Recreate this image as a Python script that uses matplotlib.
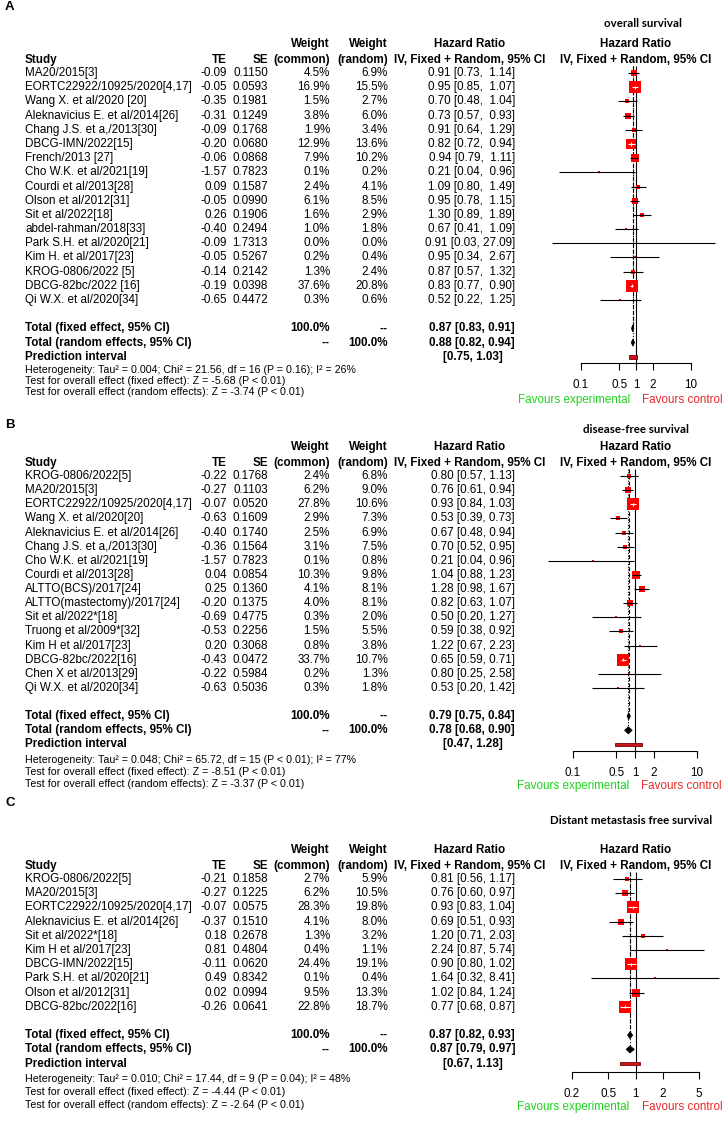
import numpy as np
import matplotlib
matplotlib.use("Agg")
import matplotlib.pyplot as plt
from matplotlib.ticker import NullLocator

# ---------------- data: panel A (overall survival) ----------------
studies_A = ["MA20/2015[3]", "EORTC22922/10925/2020[4,17]", "Wang X. et al/2020 [20]",
             "Aleknavicius E. et al/2014[26]", "Chang J.S. et a,/2013[30]", "DBCG-IMN/2022[15]",
             "French/2013 [27]", "Cho W.K. et al/2021[19]", "Courdi et al/2013[28]",
             "Olson et al/2012[31]", "Sit et al/2022[18]", "abdel-rahman/2018[33]",
             "Park S.H. et al/2020[21]", "Kim H. et al/2017[23]", "KROG-0806/2022 [5]",
             "DBCG-82bc/2022 [16]", "Qi W.X. et al/2020[34]"]
te_A = [-0.09, -0.05, -0.35, -0.31, -0.09, -0.20, -0.06, -1.57, 0.09, -0.05, 0.26, -0.40, -0.09, -0.05, -0.14, -0.19, -0.65]
se_A = [0.1150, 0.0593, 0.1981, 0.1249, 0.1768, 0.0680, 0.0868, 0.7823, 0.1587, 0.0990, 0.1906, 0.2494, 1.7313, 0.5267, 0.2142, 0.0398, 0.4472]
wc_A = [4.5, 16.9, 1.5, 3.8, 1.9, 12.9, 7.9, 0.1, 2.4, 6.1, 1.6, 1.0, 0.0, 0.2, 1.3, 37.6, 0.3]
wr_A = [6.9, 15.5, 2.7, 6.0, 3.4, 13.6, 10.2, 0.2, 4.1, 8.5, 2.9, 1.8, 0.0, 0.4, 2.4, 20.8, 0.6]
hr_A = [0.91, 0.95, 0.70, 0.73, 0.91, 0.82, 0.94, 0.21, 1.09, 0.95, 1.30, 0.67, 0.91, 0.95, 0.87, 0.83, 0.52]
lo_A = [0.73, 0.85, 0.48, 0.57, 0.64, 0.72, 0.79, 0.04, 0.80, 0.78, 0.89, 0.41, 0.03, 0.34, 0.57, 0.77, 0.22]
hi_A = [1.14, 1.07, 1.04, 0.93, 1.29, 0.94, 1.11, 0.96, 1.49, 1.15, 1.89, 1.09, 27.09, 2.67, 1.32, 0.90, 1.25]
fixed_A = [0.87, 0.83, 0.91]
random_A = [0.88, 0.82, 0.94]
pred_A = [0.75, 1.03]
het_A = ["Heterogeneity: Tau\u00b2 = 0.004; Chi\u00b2 = 21.56, df = 16 (P = 0.16); I\u00b2 = 26%",
         "Test for overall effect (fixed effect): Z = -5.68 (P < 0.01)",
         "Test for overall effect (random effects): Z = -3.74 (P < 0.01)"]
ticks_A = [0.1, 0.5, 1, 2, 10]
ticklabels_A = ["0.1", "0.5", "1", "2", "10"]

# ---------------- data: panel B (disease-free survival) ----------------
studies_B = ["KROG-0806/2022[5]", "MA20/2015[3]", "EORTC22922/10925/2020[4,17]", "Wang X. et al/2020[20]",
             "Aleknavicius E. et al/2014[26]", "Chang J.S. et a,/2013[30]", "Cho W.K. et al/2021[19]",
             "Courdi et al/2013[28]", "ALTTO(BCS)/2017[24]", "ALTTO(mastectomy)/2017[24]",
             "Sit et al/2022*[18]", "Truong et al/2009*[32]", "Kim H et al/2017[23]",
             "DBCG-82bc/2022[16]", "Chen X et al/2013[29]", "Qi W.X. et al/2020[34]"]
te_B = [-0.22, -0.27, -0.07, -0.63, -0.40, -0.36, -1.57, 0.04, 0.25, -0.20, -0.69, -0.53, 0.20, -0.43, -0.22, -0.63]
se_B = [0.1768, 0.1103, 0.0520, 0.1609, 0.1740, 0.1564, 0.7823, 0.0854, 0.1360, 0.1375, 0.4775, 0.2256, 0.3068, 0.0472, 0.5984, 0.5036]
wc_B = [2.4, 6.2, 27.8, 2.9, 2.5, 3.1, 0.1, 10.3, 4.1, 4.0, 0.3, 1.5, 0.8, 33.7, 0.2, 0.3]
wr_B = [6.8, 9.0, 10.6, 7.3, 6.9, 7.5, 0.8, 9.8, 8.1, 8.1, 2.0, 5.5, 3.8, 10.7, 1.3, 1.8]
hr_B = [0.80, 0.76, 0.93, 0.53, 0.67, 0.70, 0.21, 1.04, 1.28, 0.82, 0.50, 0.59, 1.22, 0.65, 0.80, 0.53]
lo_B = [0.57, 0.61, 0.84, 0.39, 0.48, 0.52, 0.04, 0.88, 0.98, 0.63, 0.20, 0.38, 0.67, 0.59, 0.25, 0.20]
hi_B = [1.13, 0.94, 1.03, 0.73, 0.94, 0.95, 0.96, 1.23, 1.67, 1.07, 1.27, 0.92, 2.23, 0.71, 2.58, 1.42]
fixed_B = [0.79, 0.75, 0.84]
random_B = [0.78, 0.68, 0.90]
pred_B = [0.47, 1.28]
het_B = ["Heterogeneity: Tau\u00b2 = 0.048; Chi\u00b2 = 65.72, df = 15 (P < 0.01); I\u00b2 = 77%",
         "Test for overall effect (fixed effect): Z = -8.51 (P < 0.01)",
         "Test for overall effect (random effects): Z = -3.37 (P < 0.01)"]
ticks_B = [0.1, 0.5, 1, 2, 10]
ticklabels_B = ["0.1", "0.5", "1", "2", "10"]

# ---------------- data: panel C (distant metastasis free survival) ----------------
studies_C = ["KROG-0806/2022[5]", "MA20/2015[3]", "EORTC22922/10925/2020[4,17]",
             "Aleknavicius E. et al/2014[26]", "Sit et al/2022*[18]", "Kim H et al/2017[23]",
             "DBCG-IMN/2022[15]", "Park S.H. et al/2020[21]", "Olson et al/2012[31]", "DBCG-82bc/2022[16]"]
te_C = [-0.21, -0.27, -0.07, -0.37, 0.18, 0.81, -0.11, 0.49, 0.02, -0.26]
se_C = [0.1858, 0.1225, 0.0575, 0.1510, 0.2678, 0.4804, 0.0620, 0.8342, 0.0994, 0.0641]
wc_C = [2.7, 6.2, 28.3, 4.1, 1.3, 0.4, 24.4, 0.1, 9.5, 22.8]
wr_C = [5.9, 10.5, 19.8, 8.0, 3.2, 1.1, 19.1, 0.4, 13.3, 18.7]
hr_C = [0.81, 0.76, 0.93, 0.69, 1.20, 2.24, 0.90, 1.64, 1.02, 0.77]
lo_C = [0.56, 0.60, 0.83, 0.51, 0.71, 0.87, 0.80, 0.32, 0.84, 0.68]
hi_C = [1.17, 0.97, 1.04, 0.93, 2.03, 5.74, 1.02, 8.41, 1.24, 0.87]
fixed_C = [0.87, 0.82, 0.93]
random_C = [0.87, 0.79, 0.97]
pred_C = [0.67, 1.13]
het_C = ["Heterogeneity: Tau\u00b2 = 0.010; Chi\u00b2 = 17.44, df = 9 (P = 0.04); I\u00b2 = 48%",
         "Test for overall effect (fixed effect): Z = -4.44 (P < 0.01)",
         "Test for overall effect (random effects): Z = -2.64 (P < 0.01)"]
ticks_C = [0.2, 0.5, 1, 2, 5]
ticklabels_C = ["0.2", "0.5", "1", "2", "5"]

# ---------------- layout ----------------
plt.rcParams['font.family'] = ['Liberation Sans', 'DejaVu Sans']
W, H = 724, 1122
FS = 8.4
FS_HET = 7.7
COL = dict(study=25, te=227, se=268, wc=330, wr=388, hr=515, hrc=470, fpc=636)
GREEN = '#1fd11f'
RED = '#e8292b'

fig = plt.figure(figsize=(W / 100, H / 100), dpi=100)
ax0 = fig.add_axes([0, 0, 1, 1])
ax0.set_xlim(0, W)
ax0.set_ylim(H, 0)
ax0.axis('off')


def draw_panel(L, studies, te, se, wc, wr, hr, lo, hi, fixed, random, pred, het, ticks, ticklabels):
    y0, dy = L['y0'], L['dy']
    n = len(studies)
    ys = [y0 + i * dy for i in range(n)]
    yF, yR, yP = y0 + (n + 1) * dy, y0 + (n + 2) * dy, y0 + (n + 3) * dy

    ax0.text(5, L['label_y'], L['label'], fontsize=9.5, fontweight='bold', ha='left', va='center')
    ax0.text(L['title_x'], L['title_y'], L['title'], fontsize=8.3, fontweight='bold',
             family=['Lato', 'DejaVu Sans'], ha='center', va='center')

    h1, h2 = y0 - 29, y0 - 13
    kb = dict(fontsize=FS, fontweight='bold', va='center')
    ax0.text(COL['wc'], h1, 'Weight', ha='right', **kb)
    ax0.text(COL['wr'], h1, 'Weight', ha='right', **kb)
    ax0.text(COL['hrc'], h1, 'Hazard Ratio', ha='center', **kb)
    ax0.text(COL['fpc'], h1, 'Hazard Ratio', ha='center', **kb)
    ax0.text(COL['study'], h2, 'Study', ha='left', **kb)
    ax0.text(COL['te'], h2, 'TE', ha='right', **kb)
    ax0.text(COL['se'], h2, 'SE', ha='right', **kb)
    ax0.text(COL['wc'], h2, '(common)', ha='right', **kb)
    ax0.text(COL['wr'], h2, '(random)', ha='right', **kb)
    ax0.text(COL['hrc'], h2, 'IV, Fixed + Random, 95% CI', ha='center', **kb)
    ax0.text(COL['fpc'], h2, 'IV, Fixed + Random, 95% CI', ha='center', **kb)

    kn = dict(fontsize=FS, va='center')
    cw = L['ci_w']
    for i in range(n):
        y = ys[i]
        ax0.text(COL['study'], y, studies[i], ha='left', **kn)
        ax0.text(COL['te'], y, f"{te[i]:.2f}", ha='right', **kn)
        ax0.text(COL['se'], y, f"{se[i]:.4f}", ha='right', **kn)
        ax0.text(COL['wc'], y, f"{wc[i]:.1f}%", ha='right', **kn)
        ax0.text(COL['wr'], y, f"{wr[i]:.1f}%", ha='right', **kn)
        ax0.text(COL['hr'], y, f"{hr[i]:.2f} [{lo[i]:.2f}, {hi[i]:>{cw}.2f}]", ha='right', **kn)

    ax0.text(COL['study'], yF, 'Total (fixed effect, 95% CI)', ha='left', **kb)
    ax0.text(COL['wc'], yF, '100.0%', ha='right', **kb)
    ax0.text(COL['wr'], yF, '--', ha='right', **kb)
    ax0.text(COL['hr'], yF, f"{fixed[0]:.2f} [{fixed[1]:.2f}, {fixed[2]:.2f}]", ha='right', **kb)
    ax0.text(COL['study'], yR, 'Total (random effects, 95% CI)', ha='left', **kb)
    ax0.text(COL['wc'], yR, '--', ha='right', **kb)
    ax0.text(COL['wr'], yR, '100.0%', ha='right', **kb)
    ax0.text(COL['hr'], yR, f"{random[0]:.2f} [{random[1]:.2f}, {random[2]:.2f}]", ha='right', **kb)
    ax0.text(COL['study'], yP, 'Prediction interval', ha='left', **kb)
    ax0.text(COL['hr'] - 12, yP, f"[{pred[0]:.2f}, {pred[1]:.2f}]", ha='right', **kb)

    for s, yy in zip(het, L['het_y']):
        ax0.text(COL['study'], yy, s, ha='left', va='center', fontsize=FS_HET)

    # forest plot axes (log scale), y in pixel rows
    xl, xr = 525, 724
    top, bot = y0 - 14, L['axis_y']
    d, xref = L['decade'], L['xref']
    axf = fig.add_axes([xl / W, 1 - bot / H, (xr - xl) / W, (bot - top) / H])
    axf.set_xscale('log')
    axf.set_xlim(10 ** ((xl - xref) / d), 10 ** ((xr - xref) / d))
    axf.set_ylim(bot, top)
    axf.patch.set_visible(False)
    for s in ['top', 'right', 'left']:
        axf.spines[s].set_visible(False)
    axf.spines['bottom'].set_bounds(ticks[0], ticks[-1])
    axf.spines['bottom'].set_linewidth(0.8)
    axf.set_xticks(ticks)
    axf.set_xticklabels(ticklabels, fontsize=FS)
    axf.xaxis.set_minor_locator(NullLocator())
    axf.tick_params(axis='x', direction='out', length=5, width=0.8, pad=6.3)
    axf.set_yticks([])

    ytop = y0 - 7
    axf.vlines(1, ytop, bot, color='black', lw=0.8, zorder=1)
    axf.vlines(fixed[0], ytop, yF, color='black', lw=0.8, linestyles=(0, (3.5, 2)), zorder=1)
    axf.vlines(random[0], ytop, yR, color='black', lw=0.8, linestyles=(0, (1, 1.5)), zorder=1)

    for i in range(n):
        y = ys[i]
        side = 0 if wc[i] <= 0 else max(2.0, min(12.5, 2.7 * np.sqrt(wc[i])))
        left_px = d * np.log10(hr[i] / lo[i])
        right_px = d * np.log10(hi[i] / hr[i])
        inside = side / 2 > left_px and side / 2 > right_px
        if side > 0:
            axf.scatter([hr[i]], [y], s=(side * 0.72) ** 2, marker='s', color='#ff0000',
                        linewidths=0, zorder=3)
        if inside:
            axf.hlines(y, lo[i], hi[i], color='white', lw=0.8, zorder=4)
            axf.vlines(hr[i], y - 1.6, y + 1.6, color='white', lw=0.8, zorder=4)
        else:
            axf.hlines(y, lo[i], hi[i], color='black', lw=0.8, zorder=4)

    for (est, l, h), yy in ((fixed, yF), (random, yR)):
        axf.fill([l, est, h, est], [yy, yy - 3.5, yy, yy + 3.5], facecolor='black',
                 edgecolor='black', lw=0.6, zorder=5)
    axf.fill([pred[0], pred[1], pred[1], pred[0]], [yP - 1.8, yP - 1.8, yP + 1.8, yP + 1.8],
             facecolor='#c8161d', edgecolor='#7a0000', lw=0.6, zorder=5)

    ax0.text(xref - 6, L['fav_y'], 'Favours experimental', color=GREEN, fontsize=FS, ha='right', va='center')
    ax0.text(xref + 6, L['fav_y'], 'Favours control', color=RED, fontsize=FS, ha='left', va='center')


lay_A = dict(label='A', title='overall survival', title_x=643, title_y=23, label_y=7,
             y0=73, dy=14.19, het_y=[370, 381, 392], axis_y=363, xref=636, decade=55,
             fav_y=400, ci_w=5)
lay_B = dict(label='B', title='disease-free survival', title_x=636, title_y=429, label_y=425,
             y0=476, dy=14.13, het_y=[760, 772, 784], axis_y=751, xref=635, decade=62,
             fav_y=786, ci_w=4)
lay_C = dict(label='C', title='Distant metastasis free survival', title_x=631, title_y=820, label_y=803,
             y0=879, dy=14.2, het_y=[1079, 1092, 1105], axis_y=1072, xref=635.5, decade=90.8,
             fav_y=1107, ci_w=4)

draw_panel(lay_A, studies_A, te_A, se_A, wc_A, wr_A, hr_A, lo_A, hi_A, fixed_A, random_A, pred_A,
           het_A, ticks_A, ticklabels_A)
draw_panel(lay_B, studies_B, te_B, se_B, wc_B, wr_B, hr_B, lo_B, hi_B, fixed_B, random_B, pred_B,
           het_B, ticks_B, ticklabels_B)
draw_panel(lay_C, studies_C, te_C, se_C, wc_C, wr_C, hr_C, lo_C, hi_C, fixed_C, random_C, pred_C,
           het_C, ticks_C, ticklabels_C)

fig.savefig('out.png', dpi=100)
